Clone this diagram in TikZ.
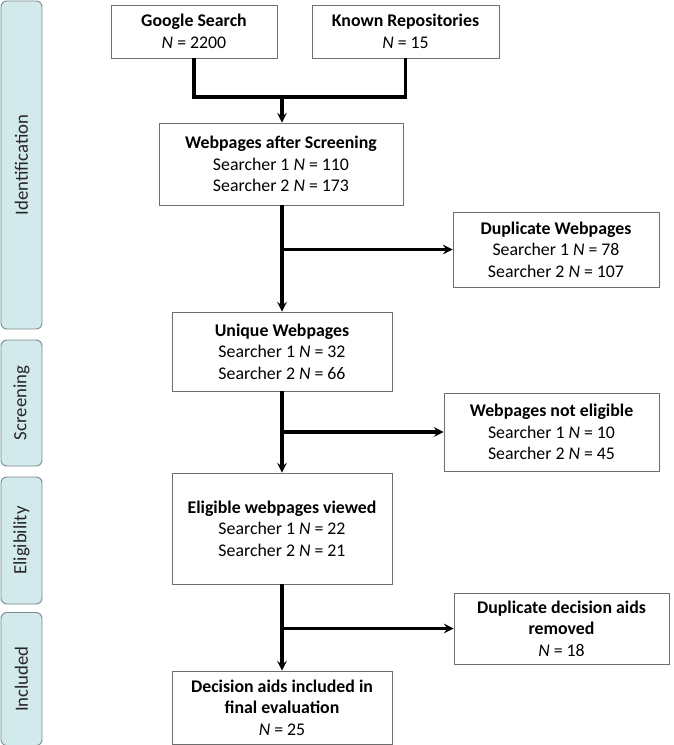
\documentclass[tikz,border=0pt]{standalone}
\usepackage{fontspec}
\setmainfont{Carlito}
\usepackage{xcolor}
\usepackage{tikz}
\usetikzlibrary{shapes,positioning}
\definecolor{boxgray}{HTML}{6E6E6E}
\definecolor{stagefill}{HTML}{D3EAEC}
\definecolor{stageline}{HTML}{7A8A8C}
\tikzset{box/.style={rectangle,draw=boxgray,line width=0.6pt,align=center,font=\fontsize{15.2}{18.5}\selectfont,inner sep=2pt}}
\tikzset{stage/.style={rectangle,rounded corners=5pt,draw=stageline,fill=stagefill,line width=0.8pt,rotate=90,minimum height=1.23cm,font=\fontsize{16}{19}\selectfont\color{black!85}}}
\tikzset{flow/.style={line width=2.6pt}}

\begin{document}
\begin{tikzpicture}[>=stealth,x=0.03cm,y=-0.03cm]
        \useasboundingbox (0,0) rectangle (674,745);
        \node[stage,minimum width=9.84cm] (s1) at (21.5,165) {Identification};
        \node[stage,minimum width=3.78cm] (s2) at (21.5,403) {Screening};
        \node[stage,minimum width=3.81cm] (s3) at (21.5,540.5) {Eligibility};
        \node[stage,minimum width=3.99cm] (s4) at (21.5,679) {Included};

        \node[box,minimum width=4.98cm,minimum height=1.59cm] (google) at (194,31.5) {\textbf{Google Search}\\ \textit{N} = 2200};
        \node[box,minimum width=5.61cm,minimum height=1.59cm] (known) at (405.5,31.5) {\textbf{Known Repositories}\\ \textit{N} = 15};
        \node[box,minimum width=7.32cm,minimum height=2.46cm] (screen) at (281,164) {\textbf{Webpages after Screening}\\ Searcher 1 \textit{N} = 110\\ Searcher 2 \textit{N} = 173};
        \node[box,minimum width=6.18cm,minimum height=2.25cm] (dup) at (556,249.5) {\textbf{Duplicate Webpages}\\ Searcher 1 \textit{N} = 78\\ Searcher 2 \textit{N} = 107};
        \node[box,minimum width=6.6cm,minimum height=2.37cm] (unique) at (282,351.5) {\textbf{Unique Webpages}\\ Searcher 1 \textit{N} = 32\\ Searcher 2 \textit{N} = 66};
        \node[box,minimum width=6.45cm,minimum height=2.34cm] (noelig) at (551.5,432) {\textbf{Webpages not eligible}\\ Searcher 1 \textit{N} = 10\\ Searcher 2 \textit{N} = 45};
        \node[box,minimum width=6.6cm,minimum height=3.33cm] (elig) at (282,528.5) {\textbf{Eligible webpages viewed}\\ Searcher 1 \textit{N} = 22\\ Searcher 2 \textit{N} = 21};
        \node[box,minimum width=6.45cm,minimum height=2.13cm] (dupaids) at (561.5,628.5) {\textbf{Duplicate decision aids}\\ \textbf{removed}\\ \textit{N} = 18};
        \node[box,minimum width=6.6cm,minimum height=2.19cm] (final) at (282,707.5) {\textbf{Decision aids included in}\\ \textbf{final evaluation}\\ \textit{N} = 25};

        \coordinate (join) at (282,97);
        \coordinate (b1) at (282,249.5);
        \coordinate (b2) at (282,432);
        \coordinate (b3) at (282,628.5);

        \draw [flow] (google.south) |- (join) -| (known.south);
        \draw [flow,->] (join) -- (join |- screen.north);
        \draw [flow,->] (screen.south -| b1) -- (unique.north);
        \draw [flow,->] (b1) -- (dup.west);
        \draw [flow,->] (unique.south) -- (elig.north);
        \draw [flow,->] (b2) -- (noelig.west);
        \draw [flow,->] (elig.south) -- (final.north);
        \draw [flow,->] (b3) -- (dupaids.west);
    \end{tikzpicture}
\end{document}
